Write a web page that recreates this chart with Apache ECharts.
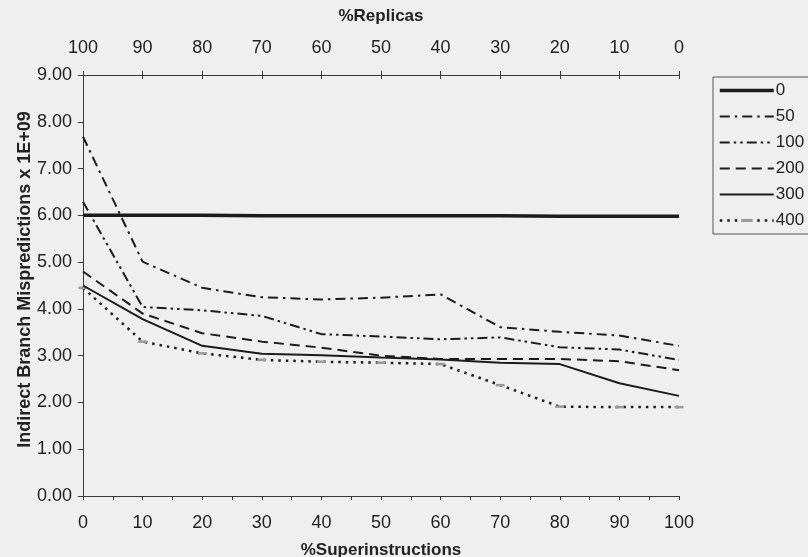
<!DOCTYPE html>
<html>
<head>
<meta charset="utf-8">
<script src="https://cdn.jsdelivr.net/npm/echarts@6/dist/echarts.min.js"></script>
<style>
  html, body { margin: 0; padding: 0; background: #efefef; }
  #chart { width: 808px; height: 557px; }
</style>
</head>
<body>
<div id="chart"></div>
<script>
// Percent of superinstructions (bottom axis); replicas fill the rest (top axis, reversed)
const superPct = [0, 10, 20, 30, 40, 50, 60, 70, 80, 90, 100];

// Indirect branch mispredictions (x 1E+09) per configuration
const seriesNames = ['0', '50', '100', '200', '300', '400'];
const mis0   = [6.00, 6.00, 6.00, 5.99, 5.99, 5.99, 5.99, 5.99, 5.98, 5.98, 5.98];
const mis50  = [7.68, 5.01, 4.45, 4.25, 4.20, 4.24, 4.31, 3.61, 3.51, 3.43, 3.21];
const mis100 = [6.29, 4.04, 3.97, 3.85, 3.46, 3.41, 3.35, 3.39, 3.18, 3.13, 2.91];
const mis200 = [4.80, 3.90, 3.48, 3.30, 3.17, 3.00, 2.93, 2.93, 2.93, 2.88, 2.69];
const mis300 = [4.50, 3.78, 3.21, 3.04, 3.01, 2.96, 2.92, 2.85, 2.82, 2.41, 2.14];
const mis400 = [4.45, 3.30, 3.05, 2.91, 2.87, 2.85, 2.82, 2.37, 1.91, 1.90, 1.90];

const ink = '#1c1c1c';
const axisInk = '#3a3a3a';
const font = 'Liberation Sans, Arial, sans-serif';
const tickFont = 18;
const nameFont = 17;

function pairs(values) {
  return superPct.map((x, i) => [x, values[i]]);
}

// Short grey bar used as the marker on the "400" curve
const barMarker = 'path://M0,0M0,3.6H10V6.4H0ZM10,10';

const styles = [
  { width: 3.5, type: 'solid' },
  { width: 2, type: [10, 5, 2.5, 5] },
  { width: 2, type: [10, 4, 2.5, 4, 2.5, 4] },
  { width: 2, type: [10, 6] },
  { width: 2, type: 'solid' },
  { width: 2.5, type: [2.5, 5] }
];
const allValues = [mis0, mis50, mis100, mis200, mis300, mis400];

const series = seriesNames.map((name, i) => {
  const isMarked = i === 5;
  return {
    name: name,
    type: 'line',
    xAxisIndex: 0,
    yAxisIndex: 0,
    data: pairs(allValues[i]),
    symbol: isMarked ? barMarker : 'none',
    symbolSize: 9,
    showSymbol: isMarked,
    itemStyle: { color: isMarked ? '#9a9a9a' : ink },
    lineStyle: { color: ink, width: styles[i].width, type: styles[i].type, cap: 'butt' },
    emphasis: { disabled: true },
    animation: false,
    z: 10 - i
  };
});

const chart = echarts.init(document.getElementById('chart'), null, { renderer: 'canvas' });
chart.setOption({
  backgroundColor: '#efefef',
  animation: false,
  textStyle: { fontFamily: font },
  grid: { left: 83, right: 129, top: 75, bottom: 61, containLabel: false, outerBoundsMode: 'none' },
  legend: {
    orient: 'vertical',
    left: 713,
    top: 77,
    padding: [5, 40, 5, 5],
    itemWidth: 54,
    itemHeight: 14,
    itemGap: 9,
    borderColor: '#555',
    borderWidth: 1,
    selectedMode: false,
    textStyle: { fontFamily: font, fontSize: 17, color: '#222', padding: [0, 0, 0, -3] },
    data: seriesNames.map((n, i) => ({
      name: n,
      lineStyle: { width: styles[i].width },
      itemStyle: i === 5 ? { color: '#9a9a9a' } : { opacity: 0 }
    }))
  },
  xAxis: [
    {
      type: 'value',
      position: 'bottom',
      min: 0, max: 100, interval: 10,
      name: '%Superinstructions',
      nameLocation: 'middle',
      nameGap: 46,
      nameMoveOverlap: false,
      nameTextStyle: { fontFamily: font, fontSize: nameFont, fontWeight: 'bold', color: '#222' },
      axisLine: { lineStyle: { color: axisInk, width: 1 } },
      axisTick: { show: true, length: 4, lineStyle: { color: axisInk } },
      minorTick: { show: true, splitNumber: 2, length: 4, lineStyle: { color: axisInk } },
      axisLabel: { fontFamily: font, fontSize: tickFont, color: '#222', margin: 18 },
      splitLine: { show: false }
    },
    {
      type: 'value',
      position: 'top',
      inverse: true,
      min: 0, max: 100, interval: 10,
      name: '%Replicas',
      nameLocation: 'middle',
      nameGap: 50,
      nameMoveOverlap: false,
      nameTextStyle: { fontFamily: font, fontSize: nameFont, fontWeight: 'bold', color: '#222' },
      axisLine: { lineStyle: { color: axisInk, width: 1 } },
      axisTick: { show: true, length: 4, lineStyle: { color: axisInk } },
      axisLabel: { fontFamily: font, fontSize: tickFont, color: '#222', margin: 18 },
      splitLine: { show: false }
    },
    {
      // inner half of the top ticks, so they cross the axis line
      type: 'value',
      position: 'top',
      inverse: true,
      min: 0, max: 100, interval: 10,
      axisLine: { show: false },
      axisTick: { show: true, inside: true, length: 4, lineStyle: { color: axisInk } },
      axisLabel: { show: false },
      splitLine: { show: false }
    }
  ],
  yAxis: {
    type: 'value',
    min: 0, max: 9, interval: 1,
    name: 'Indirect Branch Mispredictions x 1E+09',
    nameLocation: 'middle',
    nameGap: 49,
    nameMoveOverlap: false,
    nameTextStyle: { fontFamily: font, fontSize: 18, fontWeight: 'bold', color: '#222', padding: [0, 0, 0, 12] },
    axisLine: { show: true, lineStyle: { color: axisInk, width: 1 } },
    axisTick: { show: true, length: 5, lineStyle: { color: axisInk } },
    axisLabel: { fontFamily: font, fontSize: tickFont, color: '#222', margin: 11,
      formatter: v => v.toFixed(2) },
    splitLine: { show: false }
  },
  series: series
});
</script>
</body>
</html>
